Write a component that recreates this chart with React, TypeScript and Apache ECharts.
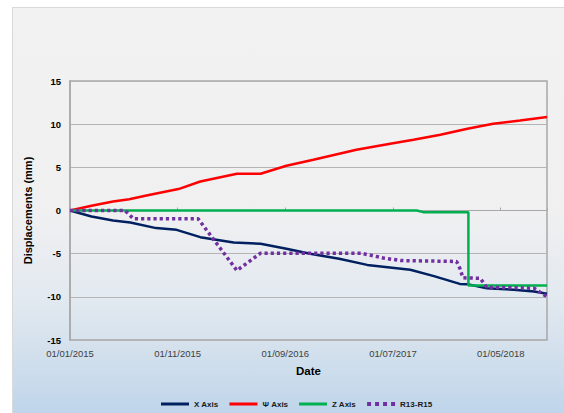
import React, { useEffect, useRef } from "react";
import * as echarts from "echarts";

// x positions are months since 01/01/2015
const tickLabels = ["01/01/2015", "01/11/2015", "01/09/2016", "01/07/2017", "01/05/2018"];
const tickMonths = [0, 10, 20, 30, 40];

const xAxisMonths = [0, 2, 4.0, 5.6, 8.0, 9.9, 12.1, 15.2, 17.7, 20.1, 22.3, 25, 27.6, 31.6, 33.8, 36.2, 36.9, 38.7, 41.2, 43.1, 44.3];
const xAxisValues = [0, -0.7, -1.16, -1.39, -2.04, -2.24, -3.09, -3.7, -3.86, -4.44, -5.0, -5.6, -6.3, -6.87, -7.6, -8.5, -8.53, -9.0, -9.19, -9.38, -9.65];

const psiAxisMonths = [0, 2, 4, 5.5, 7.1, 10.07, 12.1, 15.5, 17.7, 20.1, 22.6, 26.6, 30, 31.9, 34.4, 36.9, 39.3, 41.8, 44.3];
const psiAxisValues = [0, 0.55, 1.05, 1.3, 1.74, 2.48, 3.36, 4.25, 4.25, 5.18, 5.87, 7.03, 7.8, 8.19, 8.77, 9.47, 10.05, 10.43, 10.82];

const zAxisMonths = [0, 32.2, 32.8, 37.0, 37.0, 44.3];
const zAxisValues = [0, 0, -0.19, -0.19, -8.7, -8.7];

const r13Months = [0, 5.1, 5.9, 11.9, 15.5, 17.7, 27, 29.1, 30.7, 35.9, 36.2, 36.5, 38.1, 38.7, 43.1, 44.3];
const r13Values = [0, 0, -0.96, -0.96, -6.95, -4.94, -4.94, -5.5, -5.8, -5.9, -6.68, -7.8, -7.85, -8.9, -9.0, -10.0];

const seriesNames = ["X Axis", "Ψ Axis", "Z Axis", "R13-R15"];

const X_MAX = 44.3;

const pair = (ms: number[], vs: number[]) => ms.map((m, i) => [m, vs[i]]);

const SOLID_ICON = "path://M0 0.5H28V3.5H0Z M0 0H0.01V0.01H0Z M0 3.99H0.01V4H0Z";
const DOT_ICON = "path://M0 0h4v4h-4z M8 0h4v4h-4z M16 0h4v4h-4z M24 0h4v4h-4z";

export default function App() {
  const ref = useRef<HTMLDivElement>(null);
  useEffect(() => {
    if (!ref.current) return;
    const chart = echarts.init(ref.current, undefined, { renderer: "svg" });
    const font = "'Liberation Sans', Arial, sans-serif";
    chart.setOption({
      animation: false,
      textStyle: { fontFamily: font },
      grid: {
        left: 70,
        right: 17,
        top: 81,
        bottom: 73,
        show: true,
        borderColor: "#a8a8a8",
        borderWidth: 1.5,
        backgroundColor: "transparent",
      },
      legend: {
        left: 156,
        top: 395,
        itemWidth: 28,
        itemHeight: 4,
        itemGap: 11,
        textStyle: { fontSize: 8, fontWeight: "bold", color: "#1a1a1a", fontFamily: font },
        data: seriesNames.map((n, i) => ({ name: n, icon: i === 3 ? DOT_ICON : SOLID_ICON })),
      },
      xAxis: [
        {
          type: "value",
          min: 0,
          max: X_MAX,
          interval: 10,
          name: "Date",
          nameLocation: "middle",
          nameGap: 25,
          nameTextStyle: { fontSize: 11.5, fontWeight: "bold", color: "#000", fontFamily: font },
          axisLine: { show: false, onZero: false },
          axisTick: { show: false },
          splitLine: { show: false },
          axisLabel: {
            margin: 8,
            fontSize: 9.5,
            color: "#404040",
            showMaxLabel: false,
            formatter: (v: number) => {
              const i = tickMonths.indexOf(Math.round(v * 100) / 100);
              return i >= 0 ? tickLabels[i] : "";
            },
          },
        },
        {
          type: "value",
          min: 0,
          max: X_MAX,
          interval: 10,
          position: "bottom",
          axisLine: { show: true, onZero: true, lineStyle: { color: "#a8a8a8", width: 1 } },
          axisTick: { show: true, inside: true, length: 3, lineStyle: { color: "#a8a8a8" } },
          axisLabel: { show: false },
          splitLine: { show: false },
        },
      ],
      yAxis: {
        type: "value",
        min: -15,
        max: 15,
        interval: 5,
        name: "Displacements (mm)",
        nameLocation: "middle",
        nameGap: 37,
        nameTextStyle: { fontSize: 11, fontWeight: "bold", color: "#000", fontFamily: font },
        axisLine: { show: true, lineStyle: { color: "#a8a8a8", width: 1.5 } },
        axisTick: { show: false },
        axisLabel: { margin: 9, fontSize: 9.5, fontWeight: "bold", color: "#000" },
        splitLine: { show: true, lineStyle: { color: "#b4b4b4", width: 1 } },
      },
      series: [
        {
          name: seriesNames[0],
          type: "line",
          symbol: "none",
          data: pair(xAxisMonths, xAxisValues),
          lineStyle: { color: "#002060", width: 2.5 },
          itemStyle: { color: "#002060" },
        },
        {
          name: seriesNames[1],
          type: "line",
          symbol: "none",
          data: pair(psiAxisMonths, psiAxisValues),
          lineStyle: { color: "#ff0000", width: 2.5 },
          itemStyle: { color: "#ff0000" },
        },
        {
          name: seriesNames[2],
          type: "line",
          symbol: "none",
          data: pair(zAxisMonths, zAxisValues),
          lineStyle: { color: "#00b050", width: 2.5 },
          itemStyle: { color: "#00b050" },
        },
        {
          name: seriesNames[3],
          type: "line",
          symbol: "none",
          data: pair(r13Months, r13Values),
          lineStyle: { color: "#7030a0", width: 3.5, type: [3.2, 3], cap: "butt" },
          itemStyle: { color: "#7030a0" },
        },
      ],
    });
    return () => chart.dispose();
  }, []);

  return (
    <div style={{ position: "fixed", left: 0, top: 0, width: 564, height: 413, background: "#ffffff" }}>
      <div
        style={{
          position: "absolute",
          left: 12,
          top: 7,
          width: 552,
          height: 406,
          boxSizing: "border-box",
          borderTop: "1px solid #d9d9d9",
          borderLeft: "1px solid #d9d9d9",
          background:
            "linear-gradient(to bottom, #f2f2f2 0%, #f0f0f1 50%, #e2e9f0 72%, #cfdeec 88%, #bfd5eb 100%)",
        }}
      />
      <div ref={ref} style={{ position: "absolute", left: 0, top: 0, width: 564, height: 413 }} />
    </div>
  );
}
